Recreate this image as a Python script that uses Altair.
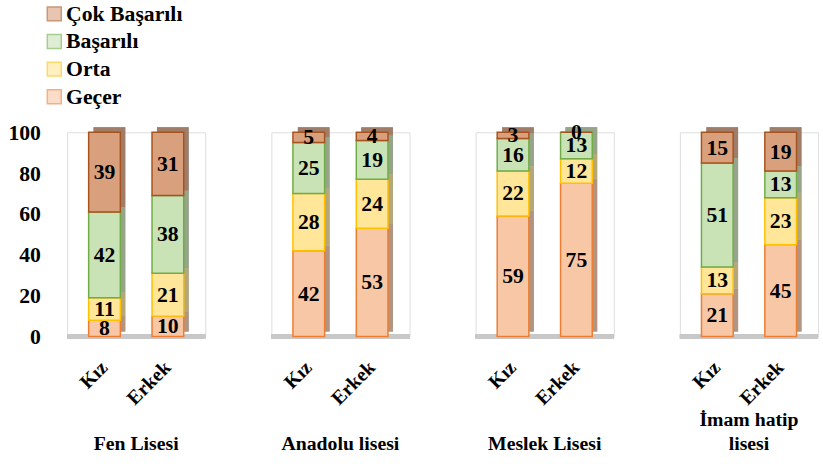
import altair as alt
import pandas as pd

schools = ["Fen Lisesi", "Anadolu lisesi", "Meslek Lisesi", "İmam hatip|lisesi"]
genders = ["Kız", "Erkek"]
levels = ["Geçer", "Orta", "Başarılı", "Çok Başarılı"]  # bottom to top
legend_order = ["Çok Başarılı", "Başarılı", "Orta", "Geçer"]

# values per (school, gender) in order: Fen K, Fen E, Anadolu K, Anadolu E, Meslek K, Meslek E, Imam K, Imam E
gecer = [8, 10, 42, 53, 59, 75, 21, 45]
orta = [11, 21, 28, 24, 22, 12, 13, 23]
basarili = [42, 38, 25, 19, 16, 13, 51, 13]
cok = [39, 31, 5, 4, 3, 0, 15, 19]

face_colors = ["#D9A07E", "#C9E2B6", "#FFE699", "#F8C8A6"]   # legend order
stroke_colors = ["#A8531E", "#70AD47", "#FFC000", "#ED7D31"]

rows = []
series = [gecer, orta, basarili, cok]
for si, school in enumerate(schools):
    for gi, g in enumerate(genders):
        idx = si * 2 + gi
        for li, lev in enumerate(levels):
            rows.append({"school": school, "gender": g, "level": lev,
                         "ord": li, "value": series[li][idx]})
df = pd.DataFrame(rows)

FONT = "Liberation Serif"

x_enc = alt.X("gender:N", sort=genders, title=None,
              scale=alt.Scale(paddingInner=0.5, paddingOuter=0.34),
              axis=alt.Axis(labelAngle=-45, labelAlign="right", labelBaseline="middle",
                            labelFont=FONT, labelFontSize=20, labelFontWeight="bold",
                            labelColor="black", domain=False, ticks=False, labelPadding=24))
y_enc = alt.Y("value:Q", stack="zero", title=None,
              scale=alt.Scale(domain=[0, 100]),
              axis=alt.Axis(values=[0, 20, 40, 60, 80, 100], labelFont=FONT, labelFontSize=22,
                            labelFontWeight="bold", labelColor="black", domain=False,
                            ticks=False, labelPadding=24, gridColor="#D9D9D9"))

fill_scale = alt.Scale(domain=legend_order, range=face_colors)
stroke_scale = alt.Scale(domain=legend_order, range=stroke_colors)

floor = alt.Chart().mark_rule(color="#C8C8C8", strokeWidth=4).encode(y=alt.datum(0))

side_dark = alt.Chart().mark_bar(xOffset=5, yOffset=-5, color="#4A4A4A").encode(
    x=x_enc, y=y_enc, order=alt.Order("ord:Q"),
)
side_col = alt.Chart().mark_bar(xOffset=5, yOffset=-5, opacity=0.6).encode(
    x=x_enc, y=y_enc,
    fill=alt.Fill("level:N", scale=fill_scale),
    order=alt.Order("ord:Q"),
)

main = alt.Chart().mark_bar(strokeWidth=1.5).encode(
    x=x_enc, y=y_enc,
    fill=alt.Fill("level:N", scale=fill_scale,
                  legend=alt.Legend(title=None, orient="none", legendX=-24, legendY=-131,
                                    direction="vertical",
                                    labelFont=FONT, labelFontSize=22, labelFontWeight="bold",
                                    labelColor="black", symbolType="square", symbolSize=200,
                                    symbolStrokeWidth=1.5, rowPadding=6, labelOffset=1)),
    stroke=alt.Stroke("level:N", scale=stroke_scale),
    order=alt.Order("ord:Q"),
)

text = alt.Chart().transform_window(
    cum="sum(value)", sort=[alt.SortField("ord")], groupby=["school", "gender"],
    frame=[None, 0]
).transform_calculate(
    mid="datum.cum - datum.value / 2"
).mark_text(font=FONT, fontSize=22, fontWeight="bold", color="black").encode(
    x=x_enc,
    y=alt.Y("mid:Q", scale=alt.Scale(domain=[0, 100])),
    text="value:Q",
)

chart = alt.layer(floor, side_dark, side_col, main, text, data=df).properties(
    width=140, height=207
).facet(
    column=alt.Column("school:N", sort=schools, title=None,
                      header=alt.Header(labelOrient="bottom", labelFont=FONT, labelFontSize=20,
                                        labelFontWeight="bold", labelColor="black",
                                        labelBaseline="middle", labelLineHeight=24,
                                        labelExpr="indexof(datum.value, '|') >= 0 ? split(datum.value, '|') : ['', datum.value]",
                                        labelPadding=12))
).properties(
    spacing=61
).configure_view(stroke=None).configure(padding={"left": 8, "top": 0, "right": 2, "bottom": 0})

chart.save("out.html", embed_options={"renderer": "svg", "actions": False})
